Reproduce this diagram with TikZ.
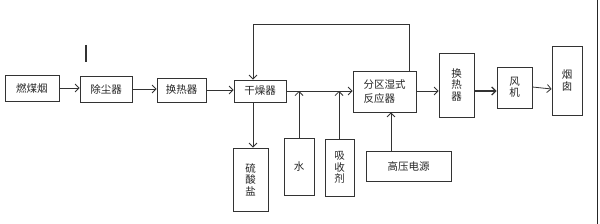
\documentclass[tikz,border=0pt]{standalone}
\usepackage{fontspec}
\newfontfamily\cjk{Noto Sans CJK SC}
\usetikzlibrary{arrows.meta}
\begin{document}
\begin{tikzpicture}[x=1pt,y=-1pt,
  box/.style={draw=black!80,line width=0.8pt,inner sep=0pt,align=center,
    font=\cjk\fontsize{10.5}{11.5}\selectfont,text=black!85},
  flow/.style={draw=black!80,line width=0.8pt,-{Straight Barb[length=4pt,width=8pt]}},
  plain/.style={draw=black!80,line width=0.8pt}]
\useasboundingbox (0,0) rectangle (600,224);
\fill[white] (0,0) rectangle (600,224);
\node[box,minimum width=54pt,minimum height=26pt] (a) at (32,88) {燃煤烟};
\node[box,minimum width=52pt,minimum height=26pt] (b) at (106,89) {除尘器};
\node[box,minimum width=49pt,minimum height=24pt] (c) at (181.5,90) {换热器};
\node[box,minimum width=52pt,minimum height=22pt] (d) at (260,91) {干燥器};
\node[box,minimum width=35pt,minimum height=63pt] (e) at (250.5,179.5) {硫\\酸\\盐};
\node[box,minimum width=30pt,minimum height=57pt] (f) at (299,166.5) {水};
\node[box,minimum width=29pt,minimum height=57pt] (g) at (339.5,167.5) {吸\\收\\剂};
\node[box,minimum width=63pt,minimum height=41pt,align=left,
  font=\cjk\fontsize{10.5}{14}\selectfont] (h) at (384.5,91.5) {分区湿式\\反应器};
\node[box,minimum width=85pt,minimum height=30pt] (i) at (408.5,166) {高压电源};
\node[box,minimum width=35pt,minimum height=64pt] (j) at (456.5,85) {换\\热\\器};
\node[box,minimum width=35pt,minimum height=41pt] (k) at (514.5,87.5) {风\\机};
\node[box,minimum width=30pt,minimum height=69pt] (l) at (567,80.5) {烟\\囱};
\coordinate (m1) at (86,45);
\coordinate (m2) at (86,62);
\draw[black!80,line width=1.6pt] (m1) -- (m2);
\coordinate (r1) at (597.5,0);
\coordinate (r2) at (597.5,224);
\draw[black!85,line width=1pt] (r1) -- (r2);
\draw[flow] (a.east |- 0,88) -- (b.west |- 0,88);
\draw[flow] (b.east |- 0,89) -- (c.west |- 0,89);
\draw[flow] (c.east |- 0,90) -- (d.west |- 0,90);
\draw[flow] (d.south -| 253,0) -- (e.north -| 253,0);
\coordinate (t1) at (409,24);
\coordinate (t2) at (253,24);
\draw[flow] (h.north -| t1) -- (t1) -- (t2) -- (d.north -| t2);
\draw[flow] (d.east |- 0,91) -- (h.west |- 0,91);
\draw[flow] (f.north -| 299,0) -- (299,91);
\draw[flow] (g.north -| 339,0) -- (339,91);
\draw[flow] (i.north -| 391,0) -- (h.south -| 391,0);
\draw[flow] (h.east |- 0,91) -- (j.west |- 0,91);
\draw[flow,line width=1.3pt] (j.east |- 0,91) -- (k.west |- 0,91);
\draw[flow] (k.east |- 0,87) -- (l.west |- 0,89);
\end{tikzpicture}
\end{document}
